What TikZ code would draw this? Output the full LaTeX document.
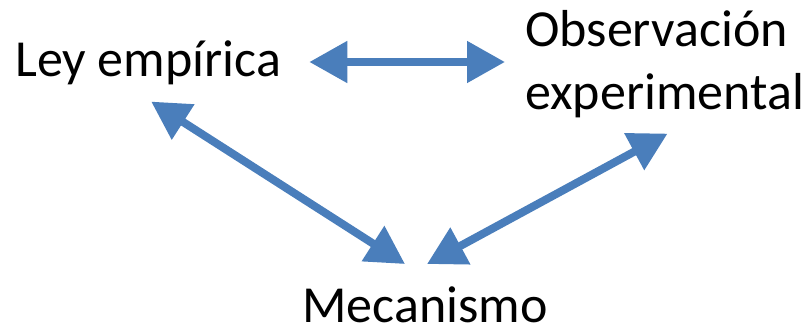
\documentclass[tikz,border=0pt]{standalone}
\usepackage{fontspec}
\setmainfont{Carlito}
\usetikzlibrary{arrows.meta}

\definecolor{arrowblue}{RGB}{74,126,187}

\begin{document}
\begin{tikzpicture}[x=1pt,y=-1pt,
    >={Triangle[length=38pt,width=40pt]},
    link/.style = {
      <->,
      draw = arrowblue,
      line width = 8pt
    },
    concept/.style = {
      inner sep = 0pt,
      font = \fontsize{52}{63}\selectfont
    }
  ]
  \useasboundingbox (0,0) rectangle (811,329);

  \node[concept,anchor=base west] (ley) at (15,77) {Ley empírica};
  \node[concept,anchor=base west,align=left] (obs) at (525,110) {Observación\\experimental};
  \node[concept,anchor=base] (mec) at (425,322) {Mecanismo};

  \draw[link] ([shift={(28pt,15pt)}]ley.base east) -- ([shift={(-20pt,48pt)}]obs.base west);
  \draw[link] ([shift={(3pt,-16pt)}]ley.south) -- ([shift={(-20pt,22pt)}]mec.north);
  \draw[link] ([shift={(2pt,22pt)}]mec.north) -- ([shift={(3pt,-15pt)}]obs.south);
\end{tikzpicture}
\end{document}
